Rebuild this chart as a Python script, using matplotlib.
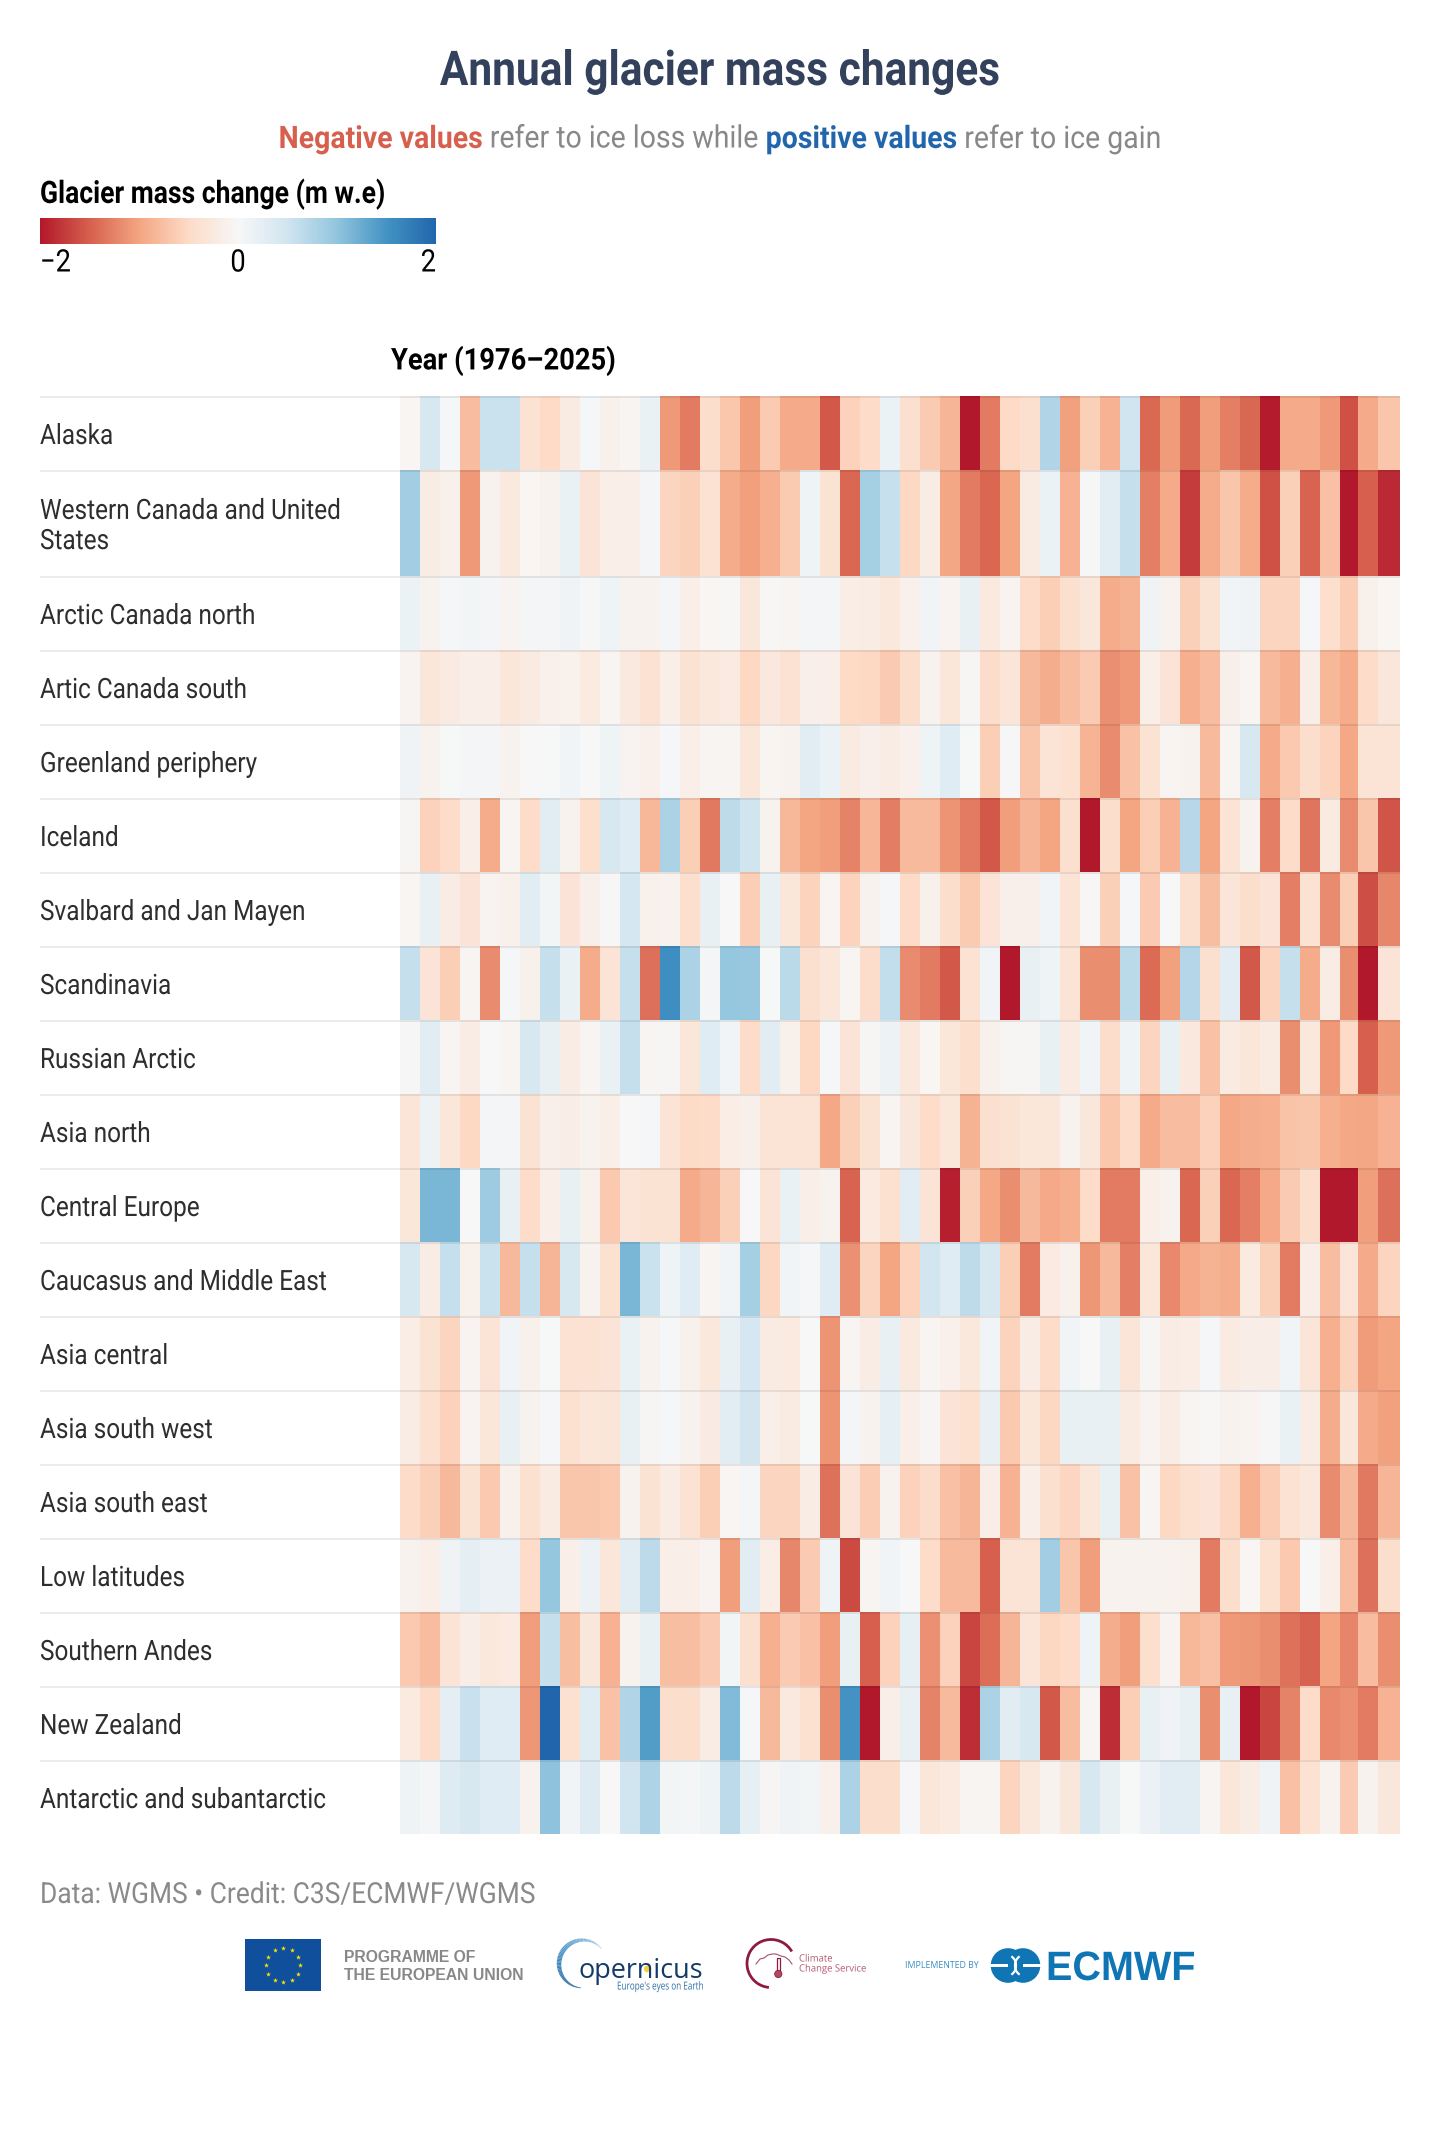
import numpy as np
import matplotlib
matplotlib.use("Agg")
import matplotlib.pyplot as plt
from matplotlib.colors import LinearSegmentedColormap, Normalize
from matplotlib.collections import LineCollection
from matplotlib.patches import Arc, Circle, Rectangle
from matplotlib.patheffects import AbstractPathEffect
from matplotlib.transforms import Affine2D

W, H = 1440, 2130
plt.rcParams["font.family"] = ["Roboto", "DejaVu Sans"]

regions = [
    "Alaska", "Western Canada and United\nStates", "Arctic Canada north", "Artic Canada south",
    "Greenland periphery", "Iceland", "Svalbard and Jan Mayen", "Scandinavia", "Russian Arctic",
    "Asia north", "Central Europe", "Caucasus and Middle East", "Asia central", "Asia south west",
    "Asia south east", "Low latitudes", "Southern Andes", "New Zealand", "Antarctic and subantarctic",
]
years = list(range(1976, 2026))

# Annual mass change per region, metres water equivalent, 1976-2025
alaska = [-0.04, 0.4, 0.03, -0.78, 0.55, 0.55, -0.38, -0.5, -0.22, 0.03, -0.12, -0.05, 0.17, -1.08, -1.3, -0.45, -0.68, -1.05, -0.66, -0.95, -0.95, -1.55, -0.58, -0.48, 0.15, -0.42,
          -0.65, -0.85, -2.0, -1.3, -0.5, -0.42, 0.75, -1.03, -0.6, -0.88, 0.5, -1.43, -1.07, -1.43, -1.05, -1.27, -1.44, -1.97, -0.95, -0.95, -1.08, -1.6, -0.95, -0.7]
western_canada_us = [0.87, -0.2, -0.12, -1.08, -0.1, -0.25, -0.04, -0.08, 0.17, -0.33, -0.15, -0.15, 0.04, -0.55, -0.6, -0.38, -0.93, -1.04, -0.9, -0.66, 0.12, -0.36, -1.45, 0.85, 0.58, -0.52,
                     -0.2, -0.98, -1.3, -1.45, -1.0, -0.22, 0.15, -0.88, 0.02, 0.28, 0.6, -1.27, -0.95, -1.75, -0.93, -0.7, -0.93, -1.6, -0.6, -1.47, -0.75, -2.0, -1.5, -1.87]
arctic_canada_north = [0.15, -0.1, 0.03, 0.07, 0.04, -0.07, 0.05, 0.05, 0.1, 0.02, 0.12, -0.09, -0.09, 0.05, -0.15, -0.04, -0.02, -0.28, -0.02, -0.06, 0.05, 0.04, -0.18, -0.2, -0.27, -0.13,
                       0.08, -0.07, 0.2, -0.25, -0.07, -0.47, -0.62, -0.42, -0.28, -0.93, -0.87, 0.1, -0.08, -0.6, -0.36, 0.08, 0.1, -0.55, -0.55, 0.03, -0.43, -0.63, -0.12, -0.04]
arctic_canada_south = [-0.07, -0.3, -0.22, -0.15, -0.15, -0.3, -0.22, -0.13, -0.11, -0.24, -0.05, -0.25, -0.37, -0.16, -0.36, -0.27, -0.23, -0.52, -0.26, -0.37, -0.14, -0.15, -0.5, -0.52, -0.65, -0.45,
                       -0.1, -0.3, -0.03, -0.46, -0.32, -0.82, -0.92, -0.78, -0.65, -1.16, -1.08, -0.15, -0.33, -0.9, -0.78, -0.14, -0.05, -0.8, -0.9, -0.17, -0.83, -0.93, -0.47, -0.28]
greenland = [0.1, -0.1, 0.01, 0.05, 0.05, -0.08, 0.0, 0.01, 0.08, 0.0, 0.12, -0.07, -0.13, 0.03, -0.15, -0.05, -0.05, -0.3, -0.06, -0.1, 0.28, 0.15, -0.22, -0.14, -0.19, -0.13,
             0.12, 0.3, 0.01, -0.62, 0.02, -0.7, -0.35, -0.4, -0.86, -1.18, -0.73, -0.36, -0.05, -0.1, -0.8, -0.05, 0.42, -0.95, -0.67, -0.45, -0.57, -0.97, -0.35, -0.34]
iceland = [-0.03, -0.58, -0.47, -0.15, -0.93, -0.05, -0.47, 0.28, -0.09, -0.43, 0.42, 0.3, -0.83, 0.8, -0.62, -1.32, 0.65, 0.5, -0.1, -0.83, -1.0, -1.05, -1.25, -0.84, -1.28, -0.8,
           -0.8, -1.12, -1.3, -1.55, -1.05, -0.85, -1.0, -0.42, -2.0, -0.45, -1.0, -0.62, -0.88, 0.7, -1.0, -0.35, -0.1, -1.27, -0.48, -1.35, -0.22, -1.18, -0.7, -1.58]
svalbard = [-0.04, 0.2, -0.2, -0.33, -0.07, -0.12, 0.27, 0.07, -0.33, -0.14, 0.02, 0.45, -0.12, -0.1, -0.43, 0.2, 0.0, -0.62, 0.18, -0.3, -0.57, -0.05, -0.57, -0.1, 0.03, -0.5,
            -0.12, -0.44, -0.66, -0.33, -0.14, -0.14, 0.08, -0.34, -0.02, -0.6, 0.03, -0.65, 0.0, -0.42, -0.77, -0.32, -0.45, -0.33, -1.27, -0.37, -1.18, -0.62, -1.62, -1.22]
scandinavia = [0.6, -0.33, -0.62, -0.05, -1.18, 0.03, -0.12, 0.6, 0.17, -0.93, -0.35, 0.6, -1.38, 1.55, 0.8, 0.05, 0.97, 0.95, 0.01, 0.68, -0.42, -0.3, -0.06, -0.46, 0.62, -1.18,
               -1.3, -1.55, -0.37, 0.08, -2.0, 0.2, 0.12, -0.35, -1.17, -1.17, 0.68, -1.42, -1.03, 0.73, -0.42, 0.28, -1.55, -0.57, 0.6, -0.93, -0.2, -1.17, -2.0, -0.33]
russian_arctic = [0.02, 0.28, -0.06, -0.19, 0.0, -0.05, 0.42, 0.2, -0.2, -0.05, 0.17, 0.6, -0.05, -0.03, -0.3, 0.3, 0.08, -0.47, 0.28, -0.12, -0.52, 0.03, -0.33, -0.03, 0.13, -0.27,
                  -0.04, -0.3, -0.43, -0.12, -0.03, -0.03, 0.2, -0.22, 0.09, -0.46, 0.12, -0.55, 0.18, -0.26, -0.73, -0.22, -0.3, -0.22, -1.17, -0.27, -1.08, -0.5, -1.5, -1.08]
asia_north = [-0.32, 0.13, -0.3, -0.52, 0.05, 0.06, -0.36, -0.14, -0.17, -0.1, -0.16, 0.0, 0.03, -0.34, -0.5, -0.47, -0.18, -0.14, -0.35, -0.35, -0.35, -0.97, -0.6, -0.36, -0.06, -0.28,
              -0.47, -0.3, -0.87, -0.42, -0.36, -0.3, -0.3, -0.08, -0.28, -0.68, -0.47, -0.95, -0.78, -0.78, -0.58, -0.97, -0.92, -0.9, -0.72, -0.7, -0.9, -0.97, -0.98, -0.88]
central_europe = [-0.3, 1.15, 1.15, 0.0, 0.9, 0.2, -0.47, -0.16, 0.2, -0.12, -0.67, -0.32, -0.36, -0.36, -0.95, -0.85, -0.6, 0.0, -0.33, 0.17, -0.16, -0.08, -1.47, -0.24, -0.4, 0.27,
                  -0.35, -1.95, -0.6, -0.97, -1.17, -0.82, -0.96, -0.9, -0.48, -1.3, -1.3, -0.15, -0.1, -1.45, -0.6, -1.45, -1.27, -0.96, -0.65, -0.45, -2.0, -2.0, -1.05, -1.38]
caucasus = [0.4, -0.2, 0.6, -0.12, 0.55, -0.82, 0.6, -0.85, 0.4, -0.09, -0.4, 1.15, 0.55, 0.12, 0.3, -0.05, 0.09, 0.85, -0.53, 0.08, 0.03, 0.3, -1.15, -0.55, -1.0, -0.57,
            0.47, 0.32, 0.65, 0.42, -0.62, -1.3, -0.23, -0.12, -1.1, -0.82, -1.27, -0.3, -1.2, -0.96, -0.87, -0.92, -0.24, -0.6, -1.3, -0.17, -0.78, -0.32, -0.95, -0.55]
asia_central = [-0.18, -0.36, -0.55, -0.07, -0.35, 0.09, -0.12, 0.01, -0.37, -0.37, -0.33, 0.17, -0.09, 0.03, -0.12, -0.27, 0.2, 0.43, -0.22, -0.24, 0.0, -1.12, -0.05, -0.19, 0.19, -0.25,
                -0.06, -0.13, -0.27, 0.08, -0.57, -0.2, -0.48, 0.08, 0.0, 0.2, -0.32, -0.03, -0.2, -0.18, 0.03, -0.22, -0.17, -0.17, 0.08, -0.32, -0.9, -0.57, -1.07, -1.0]
asia_south_west = [-0.2, -0.4, -0.58, -0.07, -0.3, 0.19, -0.1, 0.03, -0.4, -0.3, -0.32, 0.2, -0.03, 0.03, -0.09, -0.21, 0.27, 0.47, -0.15, -0.22, 0.01, -1.12, 0.05, -0.1, 0.22, -0.15,
                   -0.03, -0.33, -0.4, 0.2, -0.67, -0.3, -0.53, 0.2, 0.18, 0.2, -0.22, -0.07, -0.2, -0.06, -0.02, -0.08, -0.07, 0.02, 0.17, -0.2, -0.93, -0.28, -0.95, -1.03]
asia_south_east = [-0.47, -0.6, -0.82, -0.36, -0.67, -0.12, -0.4, -0.22, -0.7, -0.7, -0.67, -0.1, -0.36, -0.2, -0.37, -0.62, -0.04, 0.05, -0.55, -0.55, -0.2, -1.37, -0.33, -0.63, -0.08, -0.58,
                   -0.46, -0.75, -0.85, -0.17, -0.88, -0.16, -0.42, -0.54, -0.3, 0.2, -0.73, -0.06, -0.52, -0.4, -0.33, -0.53, -0.9, -0.63, -0.38, -0.27, -1.18, -0.82, -1.32, -0.85]
low_latitudes = [-0.1, -0.15, 0.1, 0.25, 0.16, 0.16, -0.47, 0.97, -0.15, 0.16, -0.3, 0.28, 0.67, -0.16, -0.16, -0.07, -1.05, 0.28, -0.18, -1.22, -0.65, 0.12, -1.65, -0.05, 0.09, 0.0,
                 -0.47, -0.8, -0.8, -1.5, -0.35, -0.34, 0.87, -0.7, -1.05, -0.1, -0.1, -0.1, -0.1, -0.12, -1.3, -0.44, -0.04, -0.4, -0.67, 0.0, -0.15, -0.78, -1.38, -0.45]
southern_andes = [-0.67, -0.78, -0.35, -0.17, -0.27, -0.23, -1.05, 0.6, -0.77, -0.28, -0.88, -0.1, 0.2, -0.77, -0.77, -0.65, 0.07, -0.42, -0.9, -0.65, -0.75, -1.05, 0.2, -1.5, -0.58, 0.23,
                  -1.15, -0.58, -1.68, -1.4, -0.85, -0.32, -0.53, -0.48, 0.12, -0.92, -1.05, -0.43, -0.07, -0.83, -0.75, -1.08, -1.1, -1.17, -1.37, -1.48, -1.0, -1.23, -0.78, -1.17]
new_zealand = [-0.24, -0.47, 0.25, 0.56, 0.32, 0.3, -1.1, 2.0, -0.4, 0.3, -0.73, 0.75, 1.4, -0.45, -0.45, -0.2, 1.1, 0.03, -0.82, -0.25, -0.4, -1.17, 1.5, -2.0, -0.15, 0.2,
               -1.25, -0.8, -1.85, 0.8, 0.28, 0.42, -1.55, -0.78, -0.05, -1.85, -0.62, 0.2, 0.1, 0.18, -1.17, 0.19, -2.0, -1.68, -1.25, -0.48, -1.2, -1.15, -1.3, -0.88]
antarctic = [0.12, 0.05, 0.33, 0.42, 0.32, 0.32, -0.1, 1.02, 0.08, 0.33, 0.0, 0.5, 0.78, 0.07, 0.06, 0.12, 0.67, 0.23, -0.03, 0.1, 0.07, -0.13, 0.8, -0.45, -0.45, 0.03,
             -0.3, -0.24, -0.05, -0.05, -0.55, -0.27, -0.1, -0.28, 0.4, 0.18, 0.01, 0.16, 0.27, 0.27, -0.05, -0.3, -0.2, 0.1, -0.75, -0.38, -0.09, -0.65, -0.1, -0.28]

mass_change = np.array([
    alaska, western_canada_us, arctic_canada_north, arctic_canada_south, greenland, iceland, svalbard,
    scandinavia, russian_arctic, asia_north, central_europe, caucasus, asia_central, asia_south_west,
    asia_south_east, low_latitudes, southern_andes, new_zealand, antarctic,
])

legend_ticks = [-2, 0, 2]
legend_tick_labels = ["\u22122", "0", "2"]

palette = ["#b2182b", "#d6604d", "#f4a582", "#fddbc7", "#f7f7f7", "#d1e5f0", "#92c5de", "#4393c3", "#2166ac"]
cmap = LinearSegmentedColormap.from_list("mass_change", palette, N=512)
norm = Normalize(-2, 2)


class Condense(AbstractPathEffect):
    """Narrows glyphs horizontally about each text line's origin."""

    def __init__(self, factor):
        super().__init__()
        self.factor = factor

    def draw_path(self, renderer, gc, tpath, affine, rgbFace=None):
        renderer.draw_path(gc, tpath, Affine2D().scale(self.factor, 1) + affine, rgbFace)


def px(n):
    """Font size in points for a height given in pixels at 100 dpi."""
    return n * 0.72


def axes_px(fig, x0, y0, x1, y1, **kw):
    """Axes placed by pixel box, y measured from the top of the canvas."""
    return fig.add_axes([x0 / W, 1 - y1 / H, (x1 - x0) / W, (y1 - y0) / H], **kw)


fig = plt.figure(figsize=(W / 100, H / 100), dpi=100, facecolor="white")
renderer = fig.canvas.get_renderer()

# Heatmap: rows are taller when the region label wraps
row_h = np.array([106 if "\n" in r else 74 for r in regions], dtype=float)
y_edges = np.concatenate([[0], np.cumsum(row_h)])
col_w = np.ones(len(years))
col_w[-3], col_w[-1] = 0.9, 1.1
x_edges = years[0] + np.concatenate([[0], np.cumsum(col_w)])

ax = axes_px(fig, 400, 396, 1400, 396 + y_edges[-1])
mesh = ax.pcolormesh(x_edges, y_edges, mass_change, cmap=cmap, norm=norm, linewidth=0, rasterized=True)
ax.set_ylim(y_edges[-1], 0)
ax.set_xlim(x_edges[0], x_edges[-1])
ax.axis("off")

# Pixel overlay for separators, labels and the footer
ov = fig.add_axes([0, 0, 1, 1], facecolor="none")
ov.set_xlim(0, W)
ov.set_ylim(H, 0)
ov.axis("off")


def narrow_text(x, y, s, squeeze, size, anchor="left", **kw):
    """Text narrowed by squeeze, placed so that its left, centre or right edge sits on x."""
    t = ov.text(x, y, s, ha="left", va="center", fontsize=px(size),
                path_effects=[Condense(squeeze)], **kw)
    width = t.get_window_extent(renderer).width * squeeze
    if anchor == "center":
        t.set_x(x - width / 2)
    elif anchor == "right":
        t.set_x(x - width)
    return t


for top, h, label in zip(396 + y_edges[:-1], row_h, regions):
    ov.add_patch(Rectangle((40, top), 1360, 2, fc="black", alpha=0.075, lw=0))
    narrow_text(40, top + h / 2 + 3.5, label, 0.87, 28, color="#2e2e2e", linespacing=1.15)

# Headline and coloured subtitle
narrow_text(720, 72, "Annual glacier mass changes", 0.884, 48, anchor="center",
            fontweight="bold", color="#33415c")

parts = [("Negative values", "#d6604d", "bold"), ("refer to ice loss while", "#888888", "normal"),
         ("positive values", "#2166ac", "bold"), ("refer to ice gain", "#888888", "normal")]
SUB_SQUEEZE = 0.918
pieces = [narrow_text(0, 139, s, SUB_SQUEEZE, 31, color=c, fontweight=w) for s, c, w in parts]
widths = [p.get_window_extent(renderer).width * SUB_SQUEEZE for p in pieces]
gap = 7.5
cursor = 720 - (sum(widths) + gap * (len(widths) - 1)) / 2
for p, wd in zip(pieces, widths):
    p.set_x(cursor)
    cursor += wd + gap

# Colour legend
narrow_text(40, 194, "Glacier mass change (m w.e)", 0.855, 31, fontweight="bold", color="black")
cax = axes_px(fig, 40, 218, 436, 244)
cb = fig.colorbar(mesh, cax=cax, orientation="horizontal")
cb.outline.set_visible(False)
cb.set_ticks([])
for value, text, anchor in zip(legend_ticks, legend_tick_labels, ["left", "center", "right"]):
    tick_x = 40 + 396 * norm(value)
    narrow_text(tick_x, 263, text, 0.88, 31, anchor=anchor, color="black")

narrow_text(391, 361, "Year (1976\u20132025)", 0.91, 30, fontweight="bold", color="black")

narrow_text(40, 1895, "Data: WGMS \u2022 Credit: C3S/ECMWF/WGMS", 0.91, 29, color="#8a8a8a")

# ---- Partner logos ----
LOGO = ["Open Sans", "DejaVu Sans"]
ARIAL = ["Liberation Sans", "DejaVu Sans"]

# EU flag
ov.add_patch(Rectangle((245, 1939), 76, 52, fc="#0f4f9c", lw=0))
angles = np.deg2rad(np.arange(0, 360, 30))
ov.scatter(283 + 17 * np.cos(angles), 1965 + 17 * np.sin(angles), marker="*", s=14, c="#ffe600", lw=0)
ov.text(344, 1958, "PROGRAMME OF", family=ARIAL, fontweight="bold", fontsize=px(15.8), color="#888888",
        ha="left", va="center")
ov.text(344, 1976, "THE EUROPEAN UNION", family=ARIAL, fontweight="bold", fontsize=px(15.8), color="#888888",
        ha="left", va="center")

# Copernicus swoosh: a tapered arc fading from dark to light blue
theta = np.deg2rad(np.linspace(95, 320, 70))
sx, sy = 583 + 24 * np.cos(theta), 1964 + 24 * np.sin(theta)
segs = np.stack([np.c_[sx[:-1], sy[:-1]], np.c_[sx[1:], sy[1:]]], axis=1)
fade = np.linspace(0, 1, len(segs))
seg_cols = LinearSegmentedColormap.from_list("swoosh", ["#1f5f98", "#4b93c8", "#a9cde8"])(fade)
seg_lw = 0.5 + 3.0 * np.sin(np.pi * fade) ** 1.2
ov.add_collection(LineCollection(segs, colors=seg_cols, linewidths=seg_lw))
ov.text(578, 1971, "opernicus", family=LOGO, fontsize=px(27), color="#123b68", ha="left", va="center")
ov.add_patch(Circle((647, 1969), 3.2, fc="#f6cf3c", lw=0))
ov.text(617, 1987, "Europe's eyes on Earth", family=LOGO, fontsize=px(11), color="#2c70a8", ha="left", va="center",
        path_effects=[Condense(0.74)])

# Climate Change Service roundel
ov.add_patch(Arc((771, 1963.5), 48, 48, theta1=95, theta2=330, ec="#8e1b3e", lw=2.0))
cloud_x = [756, 760, 764, 768, 772, 776, 781, 785, 789, 792]
cloud_y = [1964, 1959, 1958, 1955, 1954, 1954, 1956, 1957, 1960, 1964]
ov.plot(cloud_x, cloud_y, color="#a8506a", lw=0.8)
ov.add_patch(Rectangle((776.5, 1958), 3.5, 15, fc="white", ec="#8e1b3e", lw=0.9))
ov.add_patch(Circle((778.3, 1974), 3.6, fc="#b04a5c", ec="#8e1b3e", lw=0.6))
ov.text(799, 1959, "Climate", family=LOGO, fontsize=px(10), color="#b25a72", ha="left", va="center",
        path_effects=[Condense(0.95)])
ov.text(799, 1969, "Change Service", family=LOGO, fontsize=px(10), color="#b25a72", ha="left", va="center",
        path_effects=[Condense(0.95)])

# ECMWF wordmark
ov.text(905, 1965, "IMPLEMENTED BY", family=LOGO, fontsize=px(8.8), color="#3d8cc2", ha="left", va="center")
for cx in (1008, 1023):
    ov.add_patch(Circle((cx, 1965.5), 17.3, fc="#0f75b5", lw=0))
ov.add_patch(Arc((1008, 1965.5), 16, 20, theta1=-70, theta2=70, ec="white", lw=1.6))
ov.add_patch(Arc((1023, 1965.5), 16, 20, theta1=110, theta2=250, ec="white", lw=1.6))
ov.add_patch(Rectangle((990, 1964), 18, 3, fc="white", lw=0))
ov.add_patch(Rectangle((1023, 1964), 18, 3, fc="white", lw=0))
ov.text(1046, 1969, "ECMWF", family=ARIAL, fontweight="bold", fontsize=px(41), color="#0f75b5", ha="left", va="center",
        path_effects=[Condense(0.965)])

fig.savefig("out.png", dpi=100, facecolor="white")
